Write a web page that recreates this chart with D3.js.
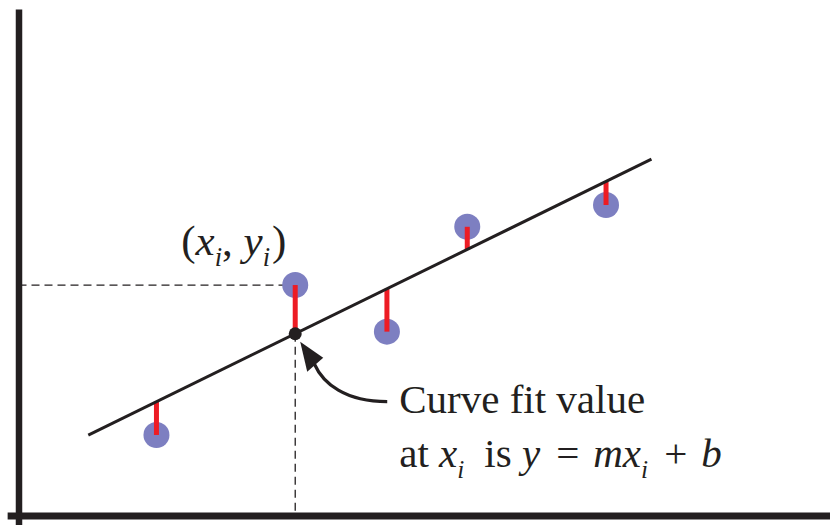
<!DOCTYPE html>
<html>
<head>
<meta charset="utf-8">
<script src="https://cdn.jsdelivr.net/npm/d3@7"></script>
<style>
  body { margin: 0; background: #fff; }
  svg { display: block; }
  text { font-family: "Liberation Serif", "Times New Roman", serif; fill: #231f20; }
</style>
</head>
<body>
<div id="chart"></div>
<script>
// Least squares illustration: data points, fitted line and residuals

const pointX = [1.70, 3.41, 4.54, 5.53, 7.24];
const pointY = [1.59, 4.55, 3.63, 5.70, 6.13];
const fitSlope = 0.785;
const fitIntercept = 0.912;
const fitRange = [0.86, 7.80];
const highlightIndex = 1;

const width = 830, height = 525;

const svg = d3.select("#chart").append("svg")
    .attr("width", width)
    .attr("height", height);

const x = d3.scaleLinear().domain([0, 10]).range([18.5, 830]);
const y = d3.scaleLinear().domain([0, 10]).range([515.5, 9]);

const fit = v => fitIntercept + fitSlope * v;
const points = pointX.map((v, i) => ({ x: v, y: pointY[i], fy: fit(v) }));
const hp = points[highlightIndex];

// dashed guides to the highlighted point
svg.append("line")
    .attr("x1", x(0)).attr("x2", x(hp.x))
    .attr("y1", y(hp.y)).attr("y2", y(hp.y))
    .attr("stroke", "#231f20").attr("stroke-width", 1.3)
    .attr("stroke-dasharray", "8,5");

svg.append("line")
    .attr("x1", x(hp.x)).attr("x2", x(hp.x))
    .attr("y1", y(hp.fy)).attr("y2", y(0))
    .attr("stroke", "#231f20").attr("stroke-width", 1.3)
    .attr("stroke-dasharray", "8,5");

// data points
svg.append("g").selectAll("circle")
    .data(points)
    .enter().append("circle")
    .attr("cx", d => x(d.x))
    .attr("cy", d => y(d.y))
    .attr("r", 13)
    .attr("fill", "#7d7fc1");

// residuals
svg.append("g").selectAll("line")
    .data(points)
    .enter().append("line")
    .attr("x1", d => x(d.x)).attr("x2", d => x(d.x))
    .attr("y1", d => y(d.y)).attr("y2", d => y(d.fy))
    .attr("stroke", "#ed1c24")
    .attr("stroke-width", 5);

// fitted line
const line = d3.line().x(d => x(d)).y(d => y(fit(d)));
svg.append("path")
    .attr("d", line(fitRange))
    .attr("fill", "none")
    .attr("stroke", "#231f20")
    .attr("stroke-width", 3);

// curve fit value marker
svg.append("circle")
    .attr("cx", x(hp.x)).attr("cy", y(hp.fy))
    .attr("r", 6.5)
    .attr("fill", "#231f20");

// axes (no ticks, just thick lines)
const yAxisScale = y.copy().domain([-0.19, 10]).range([y(-0.19), y(10)]);
const xAxisScale = x.copy().domain([-0.14, 10]).range([x(-0.14), x(10)]);

svg.append("g")
    .attr("transform", `translate(${x(0)},0)`)
    .call(d3.axisLeft(yAxisScale).tickValues([]).tickSizeOuter(0))
    .call(g => g.select(".domain").attr("stroke", "#231f20").attr("stroke-width", 6.5));

svg.append("g")
    .attr("transform", `translate(0,${y(0)})`)
    .call(d3.axisBottom(xAxisScale).tickValues([]).tickSizeOuter(0))
    .call(g => g.select(".domain").attr("stroke", "#231f20").attr("stroke-width", 7));

// arrow from label to the marker
const ax = x(hp.x), ay = y(hp.fy);
svg.append("path")
    .attr("d", `M${ax + 92},${ay + 68} C${ax + 50},${ay + 68} ${ax + 28},${ay + 50} ${ax + 19},${ay + 30}`)
    .attr("fill", "none")
    .attr("stroke", "#231f20")
    .attr("stroke-width", 3.2);

svg.append("path")
    .attr("d", `M${ax + 5},${ay + 8} L${ax + 12},${ay + 38} L${ax + 28},${ay + 24} Z`)
    .attr("fill", "#231f20");

// labels
const fontSize = 41;

function mathText(tx, ty, size, parts) {
    const t = svg.append("text")
        .attr("x", tx).attr("y", ty)
        .attr("font-family", "Liberation Serif")
        .attr("font-size", size);
    parts.forEach(p => {
        const s = t.append("tspan").text(p.t);
        if (p.i) s.attr("font-style", "italic");
        let dy = 0;
        if (p.sub) { s.attr("font-size", size * 0.62); dy = 11; }
        if (p.after) dy = -11;
        if (dy) s.attr("dy", dy);
        if (p.dx) s.attr("dx", p.dx);
    });
    return t;
}

mathText(x(hp.x) - 114, y(hp.y) - 30, 43, [
    { t: "(" }, { t: "x", i: true }, { t: "i", i: true, sub: true },
    { t: ",", after: true }, { t: " " }, { t: "y", i: true }, { t: "i", i: true, sub: true },
    { t: ")", after: true, dx: 2 }
]);

svg.append("text")
    .attr("x", ax + 104).attr("y", ay + 79)
    .attr("font-family", "Liberation Serif")
    .attr("font-size", fontSize)
    .text("Curve fit value");

mathText(ax + 104, ay + 133, fontSize, [
    { t: "at " }, { t: "x", i: true }, { t: "i", i: true, sub: true },
    { t: "is ", after: true, dx: 20 }, { t: "y", i: true }, { t: "=", dx: 16 },
    { t: "mx", i: true, dx: 14 }, { t: "i", i: true, sub: true },
    { t: "+", after: true, dx: 16 }, { t: "b", i: true, dx: 14 }
]);
</script>
</body>
</html>
